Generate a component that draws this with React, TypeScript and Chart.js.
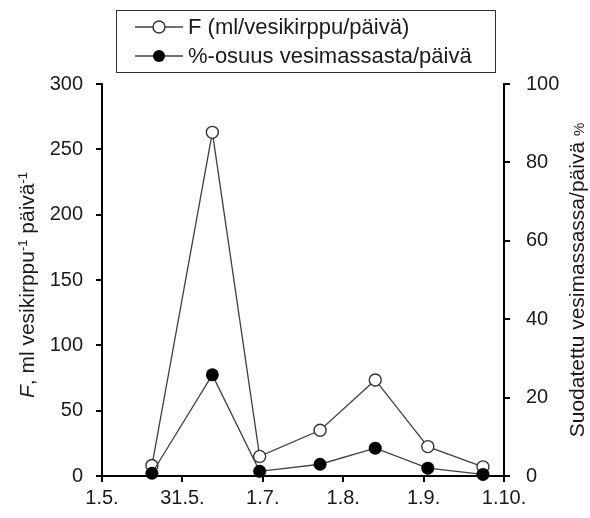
import React, { useEffect, useRef } from "react";
import { Chart, registerables } from "chart.js";

Chart.register(...registerables);

// x axis: days counted from 1.5.
const tickDays = [0, 30.6, 61.2, 91.8, 122.4, 153];
const tickLabels = ["1.5.", "31.5.", "1.7.", "1.8.", "1.9.", "1.10."];

// sampling days (days from 1.5.)
const sampleDays = [19, 42, 60, 83, 104, 124, 145];
// F (ml / vesikirppu / päivä)  — left axis
const filtrationF = [8, 263, 15, 35, 73.5, 22.5, 7];
// %-osuus vesimassasta / päivä — right axis
const sharePct = [0.7, 25.8, 1.2, 3.0, 7.1, 2.0, 0.4];

const seriesNames = ["F (ml/vesikirppu/päivä)", "%-osuus vesimassasta/päivä"];
const leftTicks = { min: 0, max: 300, step: 50 };
const rightTicks = { min: 0, max: 100, step: 20 };

const FONT = "'Liberation Sans', Arial, sans-serif";
const LINE = "#404040";
const TEXT = "#1a1a1a";

const decorPlugin = {
  id: "decor",
  afterDraw(chart: any) {
    const ctx = chart.ctx as CanvasRenderingContext2D;
    const area = chart.chartArea;
    ctx.save();

    // ---- legend box ----
    const bx = 116, by = 10, bw = 379, bh = 62;
    ctx.fillStyle = "#fff";
    ctx.fillRect(bx, by, bw, bh);
    ctx.strokeStyle = "#303030";
    ctx.lineWidth = 1;
    ctx.strokeRect(bx + 0.5, by + 0.5, bw, bh);
    const rows = [27, 56];
    rows.forEach((ry, i) => {
      ctx.strokeStyle = LINE;
      ctx.lineWidth = 1.3;
      ctx.beginPath();
      ctx.moveTo(135, ry);
      ctx.lineTo(183, ry);
      ctx.stroke();
      ctx.beginPath();
      ctx.arc(159, ry, 6, 0, Math.PI * 2);
      if (i === 0) {
        ctx.fillStyle = "#fff";
        ctx.fill();
        ctx.lineWidth = 1.4;
        ctx.strokeStyle = "#333";
        ctx.stroke();
      } else {
        ctx.fillStyle = "#000";
        ctx.fill();
      }
      ctx.fillStyle = TEXT;
      ctx.font = `22px ${FONT}`;
      ctx.textBaseline = "middle";
      ctx.textAlign = "left";
      ctx.fillText(seriesNames[i], 188, ry + 1);
    });

    // ---- left axis title (rich text) ----
    const midY = (area.top + area.bottom) / 2;
    const segs = [
      { t: "F", f: `italic 21px ${FONT}`, dy: 0 },
      { t: ", ml vesikirppu", f: `21px ${FONT}`, dy: 0 },
      { t: "-1", f: `13px ${FONT}`, dy: -7 },
      { t: " päivä", f: `21px ${FONT}`, dy: 0 },
      { t: "-1", f: `13px ${FONT}`, dy: -7 },
    ];
    let total = 0;
    segs.forEach((s) => {
      ctx.font = s.f;
      total += ctx.measureText(s.t).width;
    });
    ctx.save();
    ctx.translate(27, midY + 5);
    ctx.rotate(-Math.PI / 2);
    ctx.fillStyle = TEXT;
    ctx.textBaseline = "alphabetic";
    ctx.textAlign = "left";
    let x = -total / 2;
    segs.forEach((s) => {
      ctx.font = s.f;
      ctx.fillText(s.t, x, 7 + s.dy);
      x += ctx.measureText(s.t).width;
    });
    ctx.restore();

    // ---- right axis title ----
    const rsegs = [
      { t: "Suodatettu vesimassassa/päivä ", f: `21px ${FONT}` },
      { t: "%", f: `15px ${FONT}` },
    ];
    let rtotal = 0;
    rsegs.forEach((s) => {
      ctx.font = s.f;
      rtotal += ctx.measureText(s.t).width;
    });
    ctx.save();
    ctx.translate(577, midY);
    ctx.rotate(-Math.PI / 2);
    ctx.fillStyle = TEXT;
    ctx.textBaseline = "alphabetic";
    ctx.textAlign = "left";
    let rx = -rtotal / 2;
    rsegs.forEach((s) => {
      ctx.font = s.f;
      ctx.fillText(s.t, rx, 7);
      rx += ctx.measureText(s.t).width;
    });
    ctx.restore();

    ctx.restore();
  },
};

export default function App() {
  const ref = useRef<HTMLCanvasElement | null>(null);

  useEffect(() => {
    document.body.style.margin = "0";
    const canvas = ref.current;
    if (!canvas) return;

    const axisGrid = {
      display: true,
      drawOnChartArea: false,
      drawTicks: true,
      tickLength: 6,
      color: "#000",
      lineWidth: 2,
    };
    const axisBorder = { display: true, color: "#000", width: 2 };
    const tickFont = { family: FONT, size: 20 };

    const chart = new Chart(canvas, {
      type: "line",
      data: {
        datasets: [
          {
            label: seriesNames[0],
            data: sampleDays.map((d, i) => ({ x: d, y: filtrationF[i] })),
            yAxisID: "y",
            borderColor: LINE,
            borderWidth: 1.3,
            pointRadius: 6,
            pointBackgroundColor: "#fff",
            pointBorderColor: "#333",
            pointBorderWidth: 1.4,
            tension: 0,
            order: 1,
            clip: false as any,
          },
          {
            label: seriesNames[1],
            data: sampleDays.map((d, i) => ({ x: d, y: sharePct[i] })),
            yAxisID: "y1",
            borderColor: LINE,
            borderWidth: 1.3,
            pointRadius: 6.5,
            pointBackgroundColor: "#000",
            pointBorderColor: "#000",
            pointBorderWidth: 0,
            tension: 0,
            order: 0,
            clip: false as any,
          },
        ],
      },
      options: {
        animation: false,
        responsive: false,
        maintainAspectRatio: false,
        devicePixelRatio: 1,
        layout: { padding: { top: 84, left: 0, right: 0, bottom: 0 } },
        plugins: {
          legend: { display: false },
          tooltip: { enabled: false },
          title: { display: false },
        },
        scales: {
          x: {
            type: "linear",
            min: tickDays[0],
            max: tickDays[tickDays.length - 1],
            grid: axisGrid,
            border: axisBorder,
            afterBuildTicks: (s: any) => {
              s.ticks = tickDays.map((v) => ({ value: v }));
            },
            afterFit: (s: any) => {
              s.height = 42;
            },
            ticks: {
              autoSkip: false,
              maxRotation: 0,
              minRotation: 0,
              padding: 4,
              color: TEXT,
              font: tickFont,
              callback: (_v: any, i: number) => tickLabels[i],
            },
          },
          y: {
            type: "linear",
            position: "left",
            min: leftTicks.min,
            max: leftTicks.max,
            grid: axisGrid,
            border: axisBorder,
            afterFit: (s: any) => {
              s.width = 102;
            },
            ticks: {
              stepSize: leftTicks.step,
              padding: 13,
              color: TEXT,
              font: tickFont,
            },
          },
          y1: {
            type: "linear",
            position: "right",
            min: rightTicks.min,
            max: rightTicks.max,
            grid: axisGrid,
            border: axisBorder,
            afterFit: (s: any) => {
              s.width = 86;
            },
            ticks: {
              stepSize: rightTicks.step,
              padding: 16,
              color: TEXT,
              font: tickFont,
            },
          },
        },
      } as any,
      plugins: [decorPlugin],
    });

    return () => chart.destroy();
  }, []);

  return (
    <div style={{ width: 590, height: 518, background: "#fff" }}>
      <canvas ref={ref} width={590} height={518} style={{ display: "block" }} />
    </div>
  );
}
